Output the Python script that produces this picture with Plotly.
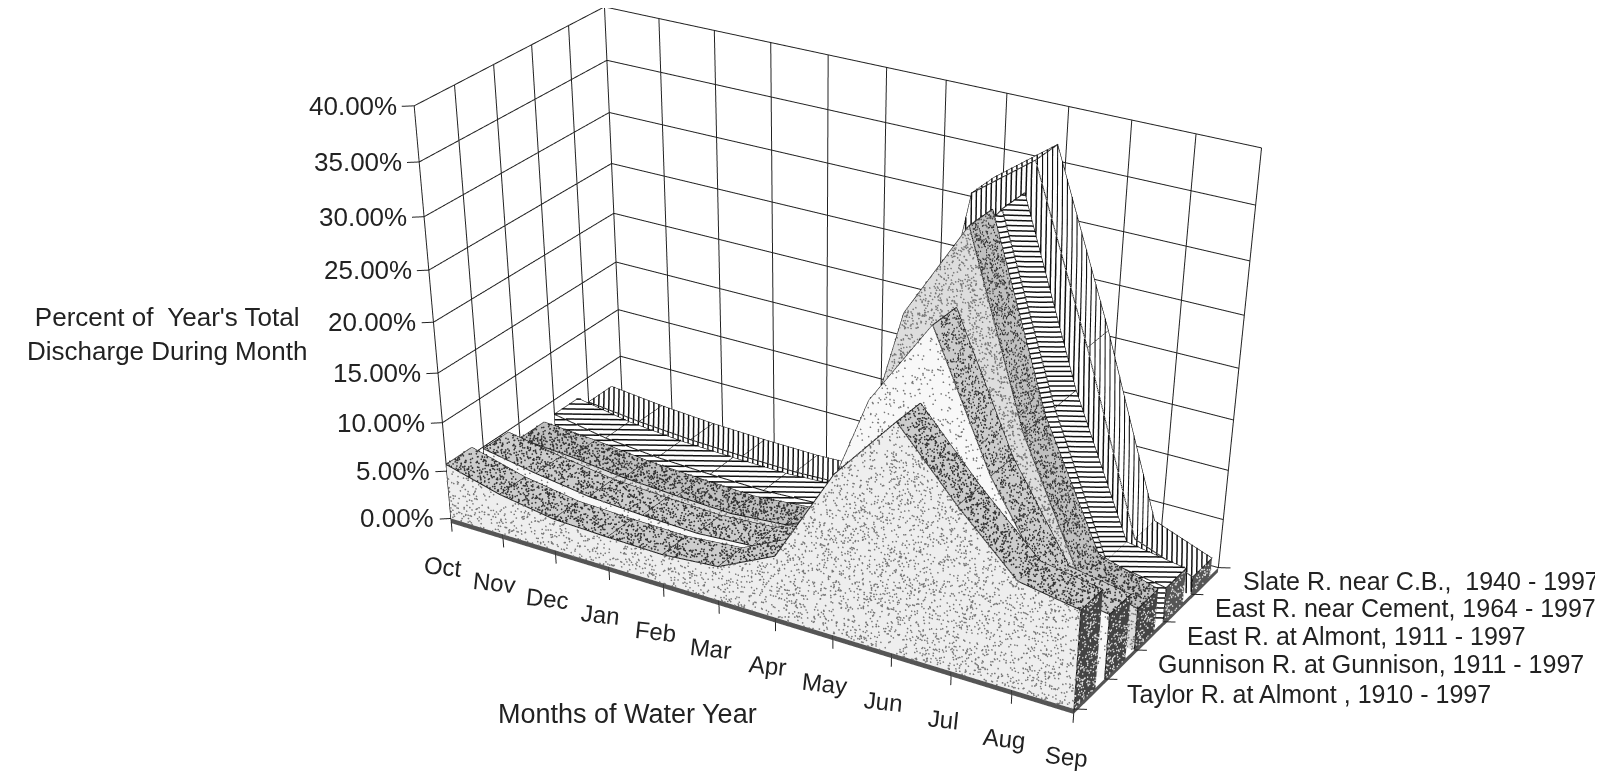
import numpy as np
import plotly.graph_objects as go

months = ["Oct","Nov","Dec","Jan","Feb","Mar","Apr","May","Jun","Jul","Aug","Sep"]
series = ["Taylor R. at Almont , 1910 - 1997","Gunnison R. at Gunnison, 1911 - 1997","East R. at Almont, 1911 - 1997","East R. near Cement, 1964 - 1997","Slate R. near C.B.,  1940 - 1997"]
taylor = [5.7,4.2,3.3,3.1,3.0,3.5,6.3,16,22.5,16.3,10.8,9.8]
gunnison = [4.8,3.8,3.0,2.7,2.5,2.9,5.5,20.5,28.9,16.5,7.5,6.5]
almont = [3.4,3.0,2.4,2.1,1.9,2.4,5,26.3,35.5,18,6,4.2]
cement = [3.5,2.5,2,1.8,1.7,2,4,27,34.9,18,4.5,3.5]
slate = [2.4,1.8,1.4,1.2,1.1,1.3,3.5,33,37.2,21.4,4,1.8]
values = [taylor,gunnison,almont,cement,slate]
zticks = [0,5,10,15,20,25,30,35,40]

W,Hv,Wd=1603,2400,1603
XR,DR,ZR = (-0.6,11.6),(-0.12,1.06),(-2,41)
def proj_par(p,par):
    a=np.array([1.0,par[8],par[9]]); eye,cen=par[:3],par[3:6]; up=np.array([par[6],par[7],1.0])
    q=np.asarray(p,float); o=np.zeros_like(q)
    for i,r in enumerate((XR,DR,ZR)):
        o[...,i]=(q[...,i]-(r[0]+r[1])/2)/(r[1]-r[0])*a[i]
    F=(Hv/2)/np.tan(np.pi/8)
    f=cen-eye; f=f/np.linalg.norm(f)
    s=np.cross(f,up); s=s/np.linalg.norm(s)
    u=np.cross(s,f)
    d=o-eye; zc=d@f
    return np.stack([Wd/2+F*(d@s)/zc, Hv/2-F*(d@u)/zc],-1)
pts3=np.array([[0,0,0],[11,0,0],[0,1,0],[11,1,0],[0,0,40],[0,1,40],[11,1,40]],float)
tgt=np.array([[446.3,521],[1085.6,725],[624.6,408.3],[1222,560.7],[417,104.7],[611.3,13.3],[1251.3,138]],float)
def rs(p):
    m=proj_par(pts3,p)
    off=np.stack([17+(704-m[:,1])*0.012, 5+(m[:,1]-3)*0.0143],-1)
    return (m+off-tgt).ravel()
p=np.array([1.7703,-2.8077,1.4644,0.2629,-0.4742,-0.8820,0.0097,0.0084,0.4564,0.5748]); lam=1e-2; r=rs(p); c=r@r
for it in range(500):
    J=np.zeros((14,10))
    for k in range(10):
        dp=p.copy(); dp[k]+=1e-5; J[:,k]=(rs(dp)-r)/1e-5
    A=J.T@J; g=J.T@r
    n=p+np.linalg.solve(A+lam*np.eye(10)*(np.diag(A).mean()+1e-9),-g); rn=rs(n); cn=rn@rn
    if np.isfinite(cn) and cn<c: p,r,c=n,rn,cn; lam=max(lam*.6,1e-9)
    else: lam=min(lam*3,1e6)
par=p
eye,cen,upv=par[:3],par[3:6],[par[6],par[7],1.0]
a=[1.0,par[8],par[9]]
def project(p): return proj_par(p,par)

fig=go.Figure()
INK="#222222"
def lines(segs,width=2,color=INK):
    xs,ys,zs=[],[],[]
    for s in segs:
        for p in s:
            xs.append(p[0]);ys.append(p[1]);zs.append(p[2])
        xs.append(None);ys.append(None);zs.append(None)
    fig.add_trace(go.Scatter3d(x=xs,y=ys,z=zs,mode="lines",line=dict(color=color,width=width),hoverinfo="skip",showlegend=False))
def mesh(quads,colors):
    xs,ys,zs,I,J,K,fc=[],[],[],[],[],[],[]
    for q,c_ in zip(quads,colors):
        n=len(xs)
        for p in q:
            xs.append(p[0]);ys.append(p[1]);zs.append(p[2])
        I+=[n,n];J+=[n+1,n+2];K+=[n+2,n+3];fc+=[c_,c_]
    fig.add_trace(go.Mesh3d(x=xs,y=ys,z=zs,i=I,j=J,k=K,facecolor=fc,flatshading=True,
        lighting=dict(ambient=1,diffuse=0,specular=0,roughness=1,fresnel=0),hoverinfo="skip",showlegend=False))
def tris(quads):
    for q in quads:
        yield np.array([q[0],q[1],q[2]],float); yield np.array([q[0],q[2],q[3]],float)
def grain(n):
    return (np.sin(n*12.9898)*43758.5453)%1
def stipple(quads,density,color,size,offset):
    pts=[]; n=0
    for t in tris(quads):
        s=project(t)
        area=abs(np.cross(s[1]-s[0],s[2]-s[0]))/2
        for _ in range(int(area*density)):
            n+=1
            u=grain(n+0.37); v=grain(2*n+11.13)
            if u+v>1: u,v=1-u,1-v
            pts.append(t[0]+u*(t[1]-t[0])+v*(t[2]-t[0])+np.array(offset))
    if pts:
        pts=np.array(pts)
        fig.add_trace(go.Scatter3d(x=pts[:,0],y=pts[:,1],z=pts[:,2],mode="markers",marker=dict(size=size,color=color,line=dict(width=0)),hoverinfo="skip",showlegend=False))
def hatch(quads,axis,period,offset):
    out=[]
    off=np.array(offset)
    for t in tris(quads):
        s=project(t)[:,axis]
        lo,hi=s.min(),s.max()
        for lev in np.arange(np.ceil(lo/period)*period,hi,period):
            cross=[]
            for a_,b_ in ((0,1),(1,2),(2,0)):
                if (s[a_]-lev)*(s[b_]-lev)<0:
                    w=(lev-s[a_])/(s[b_]-s[a_])
                    cross.append(t[a_]+w*(t[b_]-t[a_])+off)
            if len(cross)==2: out.append(cross)
    return out

gs=[]
for z in zticks:
    gs.append([(0,0,z),(0,1,z),(11,1,z)])
for i in range(12): gs.append([(i,1,0),(i,1,40)])
for k in range(6): gs.append([(0,k/5,0),(0,k/5,40)])
lines(gs,2)
ts=[[(i,0,0),(i,0,-1.4)] for i in range(12)]
ts+=[[(0,0,z),(-0.14,-0.022,z)] for z in zticks]
ts+=[[(11,k/5,0),(11.163,k/5+0.018,0)] for k in range(6)]
lines(ts,2)
mesh([[(0,0,-0.5),(11,0,-0.5),(11,0,0),(0,0,0)],[(11,0,-0.5),(11,1,-0.5),(11,1,0),(11,0,0)]],["#555555","#555555"])

fronts=["#eeeeee","#f8f8f8","#dddddd","#ffffff","#ffffff"]
tops=["#cccccc","#cccccc","#c0c0c0","#ffffff","#ffffff"]
ends=["#444444","#444444","#444444","#555555","#555555"]
front_dens=[0.06,0.03,0.10,0,0]
top_dens=[0.13,0.13,0.17,0,0]
hatch_axis=[None,None,None,1,0]
DEPTH=0.14
for k,v in reversed(list(enumerate(values))):
    d0=k*0.2; d1=d0+DEPTH
    fq,tq,seg=[],[],[]
    for i in range(11):
        fq.append([(i,d0,0),(i+1,d0,0),(i+1,d0,v[i+1]),(i,d0,v[i])])
        tq.append([(i,d0,v[i]),(i+1,d0,v[i+1]),(i+1,d1,v[i+1]),(i,d1,v[i])])
        seg.append([(i,d0,v[i]),(i+1,d0,v[i+1])]); seg.append([(i,d1,v[i]),(i+1,d1,v[i+1])])
    for i in range(12): seg.append([(i,d0,v[i]),(i,d1,v[i])])
    eq=[[(11,d0,0),(11,d1,0),(11,d1,v[11]),(11,d0,v[11])]]
    seg.append([(0,d0,0),(0,d0,v[0])]); seg.append([(11,d0,0),(11,d0,v[11])])
    mesh(fq+tq+eq,[fronts[k]]*11+[tops[k]]*11+[ends[k]])
    lines(seg,2,"#111111")
    if hatch_axis[k] is None:
        stipple(fq,front_dens[k],"#777777",1,(0,-0.0015,0))
        stipple(tq,top_dens[k],"#333333",1,(0,0,0.07))
    else:
        h=hatch(fq,hatch_axis[k],5,(0,-0.0015,0))+hatch(tq,hatch_axis[k],5,(0,0,0.07))
        lines(h,3,"#111111")
    stipple(eq,0.12,"#dddddd",1,(0.006,0,0))

LF="Liberation Sans"
ann=[]
for i,m in enumerate(months):
    ann.append(dict(x=i,y=0,z=0,text=m,showarrow=False,xshift=-8,yshift=-48,textangle=6,font=dict(family=LF,size=24,color=INK)))
for z in zticks:
    ann.append(dict(x=0,y=0,z=z,text=f"{z:.2f}%",showarrow=False,xanchor="right",xshift=-15,font=dict(family=LF,size=26,color=INK)))
for k,s in enumerate(series):
    ann.append(dict(x=11,y=(k+0.5)/5,z=0,text=s,showarrow=False,xanchor="left",xshift=36,font=dict(family=LF,size=25,color=INK)))
def px(x,y): return dict(x=x/W,y=1-y/Hv,xref="paper",yref="paper",showarrow=False,xanchor="center",yanchor="middle")
fig.update_layout(width=W,height=Hv,margin=dict(l=0,r=0,t=0,b=0),paper_bgcolor="white",showlegend=False,
  scene=dict(domain=dict(x=[0,Wd/W],y=[0,1]),aspectmode="manual",aspectratio=dict(x=a[0],y=a[1],z=a[2]),
    camera=dict(eye=dict(x=eye[0],y=eye[1],z=eye[2]),center=dict(x=cen[0],y=cen[1],z=cen[2]),up=dict(x=upv[0],y=upv[1],z=upv[2])),
    xaxis=dict(range=XR,visible=False),yaxis=dict(range=DR,visible=False),zaxis=dict(range=ZR,visible=False),annotations=ann),
  annotations=[dict(**px(159,326),align="center",text="Percent of  Year's Total<br>Discharge During Month",font=dict(family=LF,size=26,color=INK)),
    dict(**px(619,706),text="Months of Water Year",font=dict(family=LF,size=27,color=INK))])
fig.write_html("out.html")
